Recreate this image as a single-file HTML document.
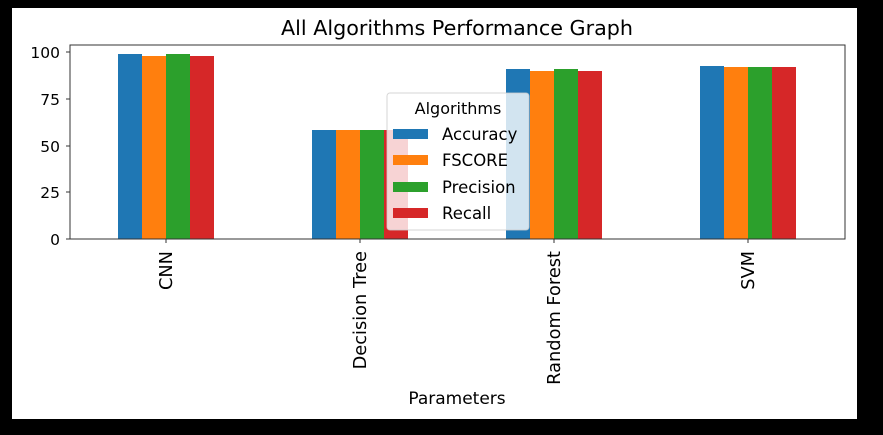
<!DOCTYPE html>
<html><head><style>body{margin:0;background:#000}svg{display:block}</style></head><body>
<svg width="883" height="435" xmlns="http://www.w3.org/2000/svg" font-family="DejaVu Sans, Liberation Sans, sans-serif">
<rect x="0" y="0" width="883" height="435" fill="#000"/>
<rect x="12" y="8" width="845" height="411" fill="#fff"/>
<text x="457" y="35" font-size="20.7" text-anchor="middle" fill="#000">All Algorithms Performance Graph</text>
<g id="bars">
<rect x="118" y="54" width="24" height="185" fill="#1f77b4"/>
<rect x="142" y="56" width="24" height="183" fill="#ff7f0e"/>
<rect x="166" y="54" width="24" height="185" fill="#2ca02c"/>
<rect x="190" y="56" width="24" height="183" fill="#d62728"/>
<rect x="312" y="130" width="24" height="109" fill="#1f77b4"/>
<rect x="336" y="130" width="24" height="109" fill="#ff7f0e"/>
<rect x="360" y="130" width="24" height="109" fill="#2ca02c"/>
<rect x="384" y="130" width="24" height="109" fill="#d62728"/>
<rect x="506" y="69" width="24" height="170" fill="#1f77b4"/>
<rect x="530" y="71" width="24" height="168" fill="#ff7f0e"/>
<rect x="554" y="69" width="24" height="170" fill="#2ca02c"/>
<rect x="578" y="71" width="24" height="168" fill="#d62728"/>
<rect x="700" y="66" width="24" height="173" fill="#1f77b4"/>
<rect x="724" y="67" width="24" height="172" fill="#ff7f0e"/>
<rect x="748" y="67" width="24" height="172" fill="#2ca02c"/>
<rect x="772" y="67" width="24" height="172" fill="#d62728"/>
</g>
<rect x="70" y="45" width="775" height="194" fill="none" stroke="#333" stroke-width="1"/>
<g stroke="#333" stroke-width="1">
<line x1="66" y1="52" x2="70" y2="52"/><line x1="66" y1="99" x2="70" y2="99"/><line x1="66" y1="146" x2="70" y2="146"/><line x1="66" y1="192" x2="70" y2="192"/><line x1="66" y1="239" x2="70" y2="239"/>
<line x1="166" y1="239" x2="166" y2="243"/><line x1="360" y1="239" x2="360" y2="243"/><line x1="554" y1="239" x2="554" y2="243"/><line x1="748" y1="239" x2="748" y2="243"/>
</g>
<g font-size="15.5" text-anchor="end" fill="#000">
<text x="60" y="58">100</text><text x="60" y="105">75</text><text x="60" y="152">50</text><text x="60" y="198">25</text><text x="60" y="245">0</text>
</g>
<g font-size="17.8" text-anchor="end" fill="#000">
<text transform="translate(172,251) rotate(-90)">CNN</text>
<text transform="translate(366,251) rotate(-90)">Decision Tree</text>
<text transform="translate(560,251) rotate(-90)">Random Forest</text>
<text transform="translate(754,251) rotate(-90)">SVM</text>
</g>
<text x="457" y="404" font-size="17" text-anchor="middle">Parameters</text>
<rect x="387" y="93" width="142" height="137" rx="3" fill="#fff" fill-opacity="0.8" stroke="#ccc" stroke-opacity="0.8"/>
<text x="458" y="114" font-size="16" text-anchor="middle">Algorithms</text>
<rect x="393" y="129" width="35" height="10" fill="#1f77b4"/>
<rect x="393" y="155" width="35" height="10" fill="#ff7f0e"/>
<rect x="393" y="182" width="35" height="10" fill="#2ca02c"/>
<rect x="393" y="208" width="35" height="10" fill="#d62728"/>
<g font-size="16.5">
<text x="442" y="140">Accuracy</text><text x="442" y="166">FSCORE</text><text x="442" y="193">Precision</text><text x="442" y="219">Recall</text>
</g>
</svg>
</body></html>
